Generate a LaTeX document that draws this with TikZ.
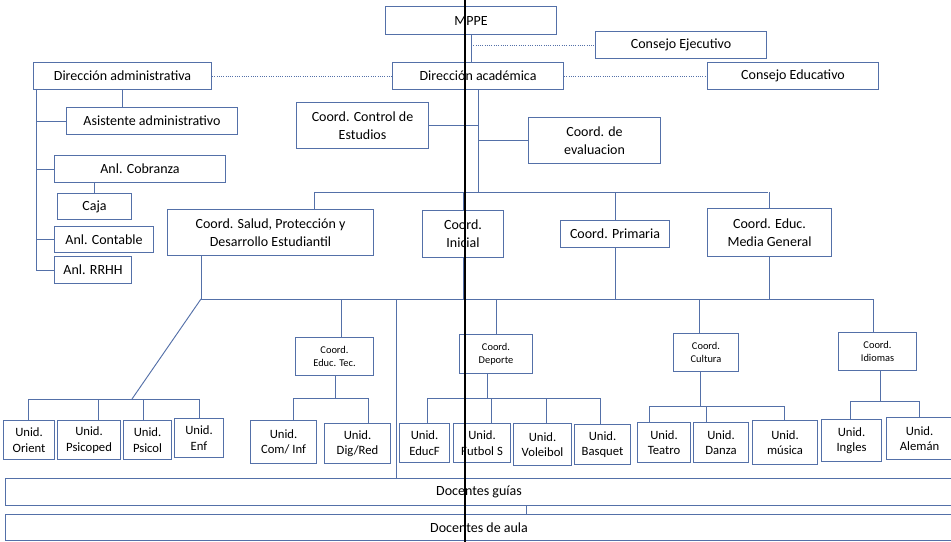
\documentclass[tikz,border=0pt]{standalone}
\usepackage{fontspec}
\setmainfont{Carlito}
\definecolor{edge}{RGB}{84,112,168}
\begin{document}
\begin{tikzpicture}[x=0.75pt,y=-0.75pt,
  box/.style={draw=edge,line width=0.8pt,fill=white,inner sep=1pt,align=center,anchor=north west,
    font=\fontsize{10.5}{13.5}\selectfont},
  unid/.style={box,font=\fontsize{9.5}{11.5}\selectfont},
  small/.style={box,font=\fontsize{7.8}{9.5}\selectfont},
  wd/.style={minimum width=#1*0.75pt},
  ht/.style={minimum height=#1*0.75pt},
  link/.style={draw=edge,line width=0.7pt},
  dots/.style={draw=edge,line width=0.7pt,densely dotted}]
\useasboundingbox (0,0) rectangle (951,542);
\clip (0,0) rectangle (951,542);
% top level
\node[box,wd=171,ht=28] (mppe) at (385,6) {MPPE};
\node[box,wd=171,ht=27] (cejec) at (595,31) {Consejo Ejecutivo};
\node[box,wd=178,ht=27] (dadm) at (33,62) {Dirección administrativa};
\node[box,wd=171,ht=27] (dacad) at (392,62) {Dirección académica};
\node[box,wd=171,ht=27] (cedu) at (707,62) {Consejo Educativo};
% administrative branch
\node[box,wd=171,ht=27] (asis) at (66,107) {Asistente administrativo};
\node[box,wd=171,ht=27] (cobr) at (54,155) {Anl. Cobranza};
\node[box,wd=74,ht=26] (caja) at (57,193) {Caja};
\node[box,wd=99,ht=26] (acont) at (54,226) {Anl. Contable};
\node[box,wd=77,ht=27] (rrhh) at (54,256) {Anl. RRHH};
% academic staff
\node[box,wd=132,ht=46] (ccont) at (296,102) {Coord. Control de\\Estudios};
\node[box,wd=132,ht=46] (ceval) at (528,117) {Coord. de\\evaluacion};
% coordinations
\node[box,wd=206,ht=46] (salud) at (167,209) {Coord. Salud, Protección y\\Desarrollo Estudiantil};
\node[box,wd=81,ht=47] (inicial) at (422,210) {Coord.\\Inicial};
\node[box,wd=109,ht=27] (prim) at (560,220) {Coord. Primaria};
\node[box,wd=124,ht=48] (media) at (707,208) {Coord. Educ.\\Media General};
% sub coordinations
\node[small,wd=78,ht=38] (etec) at (295,337) {Coord.\\Educ. Tec.};
\node[small,wd=73,ht=39] (dep) at (459,334) {Coord.\\Deporte};
\node[small,wd=65,ht=38] (cult) at (673,333) {Coord.\\Cultura};
\node[small,wd=78,ht=38] (idi) at (838,332) {Coord.\\Idiomas};
% units
\node[unid,wd=51,ht=39] (u1) at (3,420) {Unid.\\Orient};
\node[unid,wd=63,ht=39] (u2) at (57,420) {Unid.\\Psicoped};
\node[unid,wd=48,ht=39] (u3) at (123,420) {Unid.\\Psicol};
\node[unid,wd=49,ht=39] (u4) at (174,418) {Unid.\\Enf};
\node[unid,wd=66,ht=43] (u5) at (250,420) {Unid.\\Com/ Inf};
\node[unid,wd=66,ht=40] (u6) at (324,423) {Unid.\\Dig/Red};
\node[unid,wd=50,ht=39] (u7) at (399,423) {Unid.\\EducF};
\node[unid,wd=57,ht=39] (u8) at (453,423) {Unid.\\Futbol S};
\node[unid,wd=58,ht=42] (u9) at (513,423) {Unid.\\Voleibol};
\node[unid,wd=56,ht=40] (u10) at (574,424) {Unid.\\Basquet};
\node[unid,wd=53,ht=40] (u11) at (637,422) {Unid.\\Teatro};
\node[unid,wd=55,ht=40] (u12) at (693,422) {Unid.\\Danza};
\node[unid,wd=65,ht=44] (u13) at (752,420) {Unid.\\música};
\node[unid,wd=60,ht=42] (u14) at (821,419) {Unid.\\Ingles};
\node[unid,wd=66,ht=42] (u15) at (886,417) {Unid.\\Alemán};
% teachers
\node[box,wd=947,ht=27] (dg) at (5,478) {Docentes guías};
\node[box,wd=947,ht=26] (da) at (5,514) {Docentes de aula};
% helper coordinates
\coordinate (h1L) at (314,192);
\coordinate (h1R) at (768,192);
\coordinate (h2L) at (201,299);
\coordinate (h2R) at (873,299);
\coordinate (g1L) at (28,399);
\coordinate (g1R) at (199,399);
\coordinate (g1m) at (132,399);
\coordinate (g1b) at (98,399);
\coordinate (g1c) at (143,399);
\coordinate (g2L) at (293,398);
\coordinate (g2R) at (368,398);
\coordinate (g2t) at (341,299);
\coordinate (g2s) at (335,398);
\coordinate (g3L) at (427,398);
\coordinate (g3R) at (600,398);
\coordinate (g3b) at (491,398);
\coordinate (g3c) at (546,398);
\coordinate (g3s) at (487,398);
\coordinate (g4L) at (649,406);
\coordinate (g4R) at (784,406);
\coordinate (g4b) at (706,406);
\coordinate (g4s) at (700,406);
\coordinate (g4t) at (699,299);
\coordinate (g5L) at (850,401);
\coordinate (g5R) at (919,401);
\coordinate (g5s) at (880,401);
\coordinate (lv) at (396,299);
\coordinate (adm) at (36,89);
\coordinate (dgc) at (526,505);
% top connectors
\draw[link] (mppe.south) -- (mppe.south |- dacad.north);
\draw[dots] (mppe.south |- cejec.west) -- (cejec.west);
\draw[dots] (dadm.east) -- (dacad.west);
\draw[dots] (dacad.east) -- (cedu.west);
\draw[link] (dacad.south) -- (dacad.south |- h1L);
\draw[link] (ccont.east) -- (ccont.east -| dacad.south);
\draw[link] (ceval.west) -- (ceval.west -| dacad.south);
\draw[link] (h1L) -- (h1R);
\draw[link] (h1L) -- (h1L |- salud.north);
\draw[link] (inicial.north) -- (inicial.north |- h1L);
\draw[link] (prim.north) -- (prim.north |- h1L);
\draw[link] (media.north) -- (media.north |- h1L);
% administrative tree
\draw[link] (adm) -- (adm |- rrhh.west) -- (rrhh.west);
\draw[link] (adm |- asis.west) -- (asis.west);
\draw[link] (adm |- cobr.west) -- (cobr.west);
\draw[link] (adm |- acont.west) -- (acont.west);
\draw[link] (dadm.south) -- (dadm.south |- asis.north);
\draw[link] (cobr.south -| caja.north) -- (caja.north);
% second hub
\draw[link] (salud.south -| h2L) -- (h2L) -- (h2R);
\draw[link] (inicial.south) -- (inicial.south |- h2L);
\draw[link] (prim.south) -- (prim.south |- h2L);
\draw[link] (media.south) -- (media.south |- h2L);
\draw[link] (h2L) -- (g1m);
\draw[link] (g2t) -- (g2t |- etec.north);
\draw[link] (lv) -- (lv |- dg.north);
\draw[link] (dep.north) -- (dep.north |- h2L);
\draw[link] (g4t) -- (g4t |- cult.north);
\draw[link] (h2R) -- (h2R |- idi.north);
% group 1
\draw[link] (g1L) -- (g1R);
\draw[link] (g1L) -- (g1L |- u1.north);
\draw[link] (g1b) -- (g1b |- u2.north);
\draw[link] (g1c) -- (g1c |- u3.north);
\draw[link] (g1R) -- (g1R |- u4.north);
% group 2
\draw[link] (etec.south -| g2s) -- (g2s);
\draw[link] (g2L) -- (g2R);
\draw[link] (g2L) -- (g2L |- u5.north);
\draw[link] (g2R) -- (g2R |- u6.north);
% group 3
\draw[link] (dep.south -| g3s) -- (g3s);
\draw[link] (g3L) -- (g3R);
\draw[link] (g3L) -- (g3L |- u7.north);
\draw[link] (g3b) -- (g3b |- u8.north);
\draw[link] (g3c) -- (g3c |- u9.north);
\draw[link] (g3R) -- (g3R |- u10.north);
% group 4
\draw[link] (cult.south -| g4s) -- (g4s);
\draw[link] (g4L) -- (g4R);
\draw[link] (g4L) -- (g4L |- u11.north);
\draw[link] (g4b) -- (g4b |- u12.north);
\draw[link] (g4R) -- (g4R |- u13.north);
% group 5
\draw[link] (idi.south -| g5s) -- (g5s);
\draw[link] (g5L) -- (g5R);
\draw[link] (g5L) -- (g5L |- u14.north);
\draw[link] (g5R) -- (g5R |- u15.north);
% teachers
\draw[link] (dgc) -- (dgc |- da.north);
% vertical black rule
\draw[black,line width=1.8pt] (465,0) -- (465,542);
\end{tikzpicture}
\end{document}
